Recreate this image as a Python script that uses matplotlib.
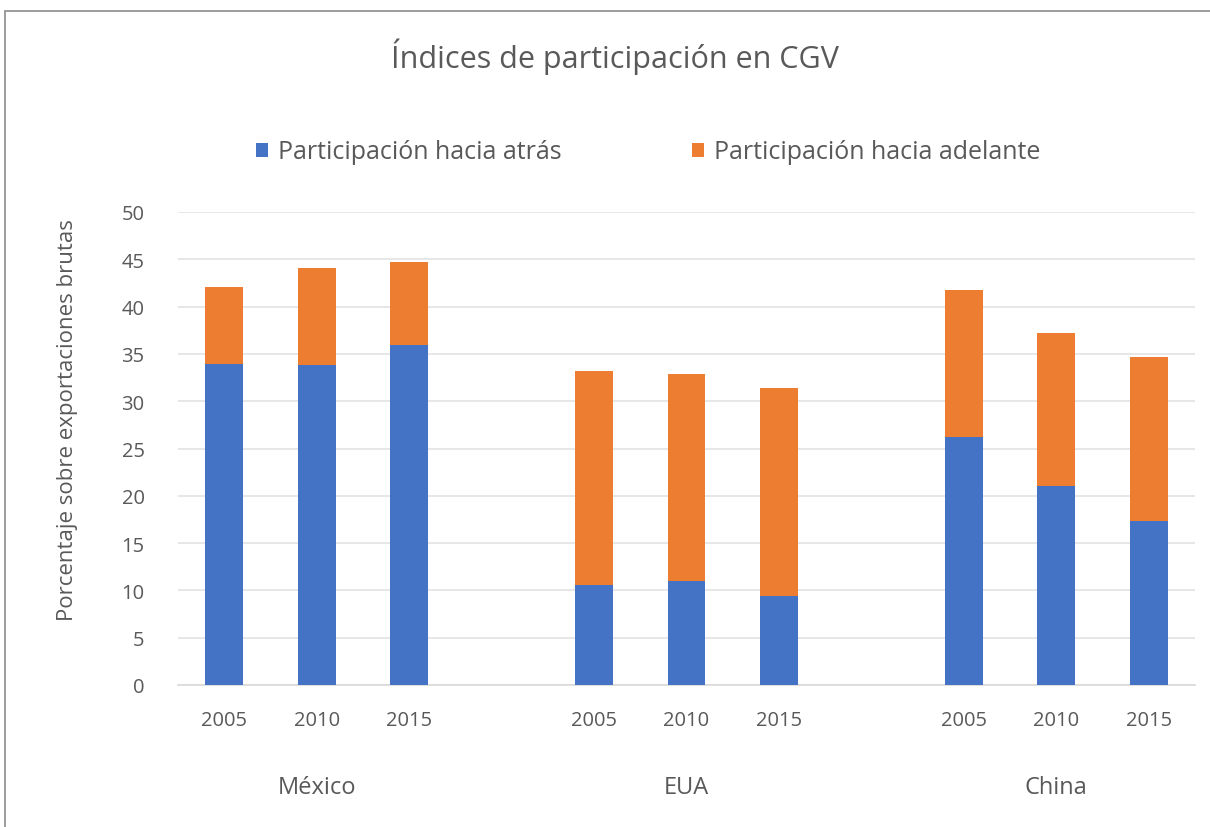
import numpy as np
import matplotlib
matplotlib.use('Agg')
import matplotlib.pyplot as plt
from matplotlib.patches import Rectangle

countries = ['México', 'EUA', 'China']
years = ['2005', '2010', '2015']
atras = [33.9, 33.8, 35.9, 10.6, 11.0, 9.4, 26.2, 21.0, 17.3]
adelante = [8.2, 10.3, 8.8, 22.6, 21.9, 22.0, 15.6, 16.2, 17.4]

plt.rcParams['font.family'] = ['Open Sans', 'DejaVu Sans']
txt = '#595959'
blue = '#4472c4'
orange = '#ed7d31'

fig = plt.figure(figsize=(12.1, 8.28), dpi=100)
fig.patches.append(Rectangle((5/1210, -0.01), 1.02, 1 - 12/828 + 0.01,
                             transform=fig.transFigure, fill=False,
                             edgecolor='#8c8c8c', linewidth=1.2))
ax = fig.add_axes([178/1210, 1 - 686/828, (1195-178)/1210, (686-213)/828])

x = []
for g in range(len(countries)):
    for i in range(len(years)):
        x.append(g*4 + i)
x = np.array(x)

ax.bar(x, atras, width=0.41, color=blue, label='Participación hacia atrás', zorder=3)
ax.bar(x, adelante, width=0.41, bottom=atras, color=orange,
       label='Participación hacia adelante', zorder=3)

ax.set_xlim(-0.5, 10.5)
ax.set_ylim(0, 50)
ax.set_yticks(range(0, 51, 5))
ax.yaxis.grid(True, color='#e3e3e3', linewidth=1.2, zorder=0)
ax.set_xticks(x)
ax.set_xticklabels(years * len(countries))
ax.tick_params(axis='both', length=0, labelsize=14.5, colors=txt)
ax.tick_params(axis='x', pad=18)
ax.tick_params(axis='y', pad=24)
for s in ['top', 'right', 'left']:
    ax.spines[s].set_visible(False)
ax.spines['bottom'].set_color('#d9d9d9')
ax.spines['bottom'].set_linewidth(1.2)

for g, c in enumerate(countries):
    ax.text(g*4 + 1, -10.8, c, ha='center', va='center', fontsize=17, color=txt)

fig.text(68/1210, 1 - 420/828, 'Porcentaje sobre exportaciones brutas', rotation=90,
         ha='center', va='center', fontsize=16, color=txt)
fig.text(615/1210, 1 - 57/828, 'Índices de participación en CGV', ha='center', va='center',
         fontsize=22, color=txt)
fig.legend(loc='center', bbox_to_anchor=(648/1210, 1 - 153/828), ncol=2, frameon=False,
           fontsize=18, labelcolor=txt, handlelength=0.5, handleheight=0.5,
           columnspacing=5.2, handletextpad=0.4)

fig.savefig('out.png', dpi=100)
